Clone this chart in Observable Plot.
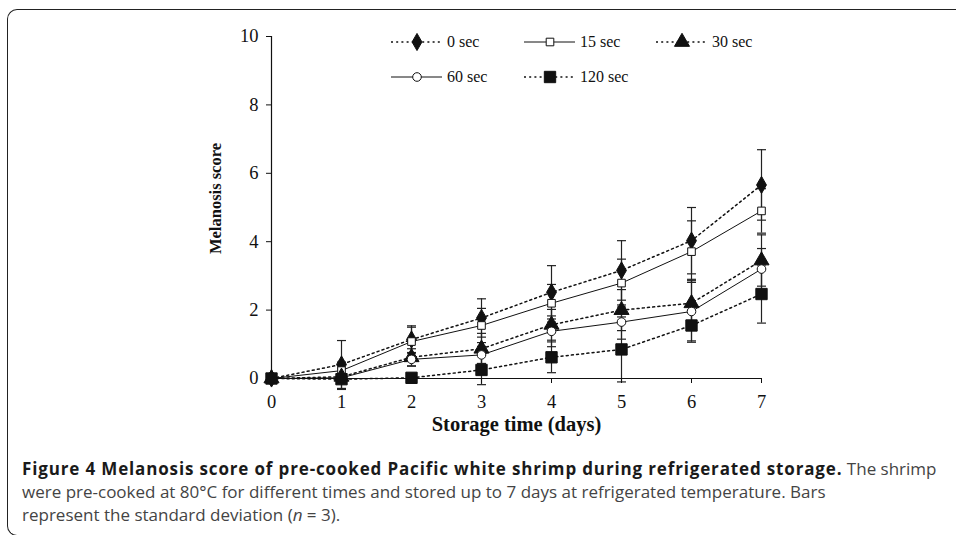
<!DOCTYPE html>
<html>
<head>
<meta charset="utf-8">
<script src="https://cdn.jsdelivr.net/npm/d3@7"></script>
<script src="https://cdn.jsdelivr.net/npm/@observablehq/plot@0.6"></script>
<style>
  html, body { margin: 0; padding: 0; background: #fff; }
  #page { position: relative; width: 956px; height: 535px; overflow: hidden; background: #fff; }
  #frame { position: absolute; left: 7px; top: 9px; width: 1000px; height: 527px;
           border-left: 1.6px solid #222; border-top: 1.6px solid #222; border-bottom: 1.6px solid #222;
           border-radius: 10px 0 0 10px; box-sizing: border-box; }
  #chart { position: absolute; left: 0; top: 0; }
  #chart svg text { font-size: 18.5px; }
  #chart svg [aria-label="x-axis label"] text { font-weight: bold; font-size: 20.5px; }
  #chart svg g.ylabel text { font-weight: bold; font-size: 16.5px; }
  #legend { position: absolute; left: 0; top: 0; font-family: "Liberation Serif", serif; font-size: 16px; color: #111; }
  .lg { position: absolute; display: flex; align-items: center; white-space: nowrap; }
  .lg svg { display: block; margin-right: 4px; }
  #caption { position: absolute; left: 22px; top: 457px; font-family: "Open Sans", sans-serif; font-size: 17px; line-height: 23px; color: #444; white-space: nowrap; }
  #caption b { color: #1a1a1a; letter-spacing: 0.85px; }
</style>
</head>
<body>
<div id="page">
  <div id="chart"></div>
  <div id="legend"></div>
  <div id="frame"></div>
  <div id="caption"><b>Figure 4 Melanosis score of pre-cooked Pacific white shrimp during refrigerated storage.</b> The shrimp<br>were pre-cooked at 80°C for different times and stored up to 7 days at refrigerated temperature. Bars<br>represent the standard deviation (<i>n</i> = 3).</div>
</div>
<script>
// ---- data ----
const days = [0, 1, 2, 3, 4, 5, 6, 7];
const yTicks = [0, 2, 4, 6, 8, 10];
const seriesNames = ["0 sec", "15 sec", "30 sec", "60 sec", "120 sec"];
const xLabel = "Storage time (days)";
const yLabel = "Melanosis score";

const score0s   = [0, 0.41, 1.14, 1.77, 2.52, 3.16, 4.03, 5.66];
const sd0s      = [0, 0.70, 0.40, 0.56, 0.78, 0.87, 0.97, 1.03];
const score15s  = [0, 0.23, 1.08, 1.55, 2.20, 2.79, 3.71, 4.90];
const sd15s     = [0, 0.25, 0.42, 0.50, 0.55, 0.70, 0.90, 0.65];
const score30s  = [0, 0.05, 0.62, 0.87, 1.57, 2.00, 2.20, 3.45];
const sd30s     = [0, 0.10, 0.25, 0.45, 0.45, 0.60, 0.70, 0.75];
const score60s  = [0, 0.02, 0.56, 0.69, 1.38, 1.65, 1.96, 3.20];
const sd60s     = [0, 0.05, 0.20, 0.25, 0.45, 0.50, 0.90, 0.60];
const score120s = [0, -0.02, 0.02, 0.25, 0.62, 0.85, 1.55, 2.47];
const sd120s    = [0, 0.30, 0.05, 0.43, 0.45, 0.95, 0.45, 0.85];

const scores = [score0s, score15s, score30s, score60s, score120s];
const sds = [sd0s, sd15s, sd30s, sd60s, sd120s];

// ---- styles per series ----
const styles = [
  {dash: "2,3.2", width: 1.5, symbol: "diamond",  fill: "#111", r: 5.2},
  {dash: null,    width: 1,   symbol: "square",   fill: "#fff", r: 4.3},
  {dash: "2,3.2", width: 1.5, symbol: "triangle", fill: "#111", r: 5.6},
  {dash: null,    width: 1,   symbol: "circle",   fill: "#fff", r: 4.3},
  {dash: "2,3.2", width: 1.5, symbol: "square",   fill: "#111", r: 6.4}
];

const rows = [];
seriesNames.forEach((name, i) => {
  days.forEach((d, j) => rows.push({series: name, si: i, day: d, score: scores[i][j], sd: sds[i][j]}));
});

const capSymbol = { draw(ctx) { ctx.moveTo(-4.5, 0); ctx.lineTo(4.5, 0); } };

const marks = [];
// error bars
const withSd = rows.filter(r => r.sd > 0);
marks.push(Plot.ruleX(withSd, {x: "day", y1: r => r.score - r.sd, y2: r => r.score + r.sd, stroke: "#222", strokeWidth: 1.2}));
marks.push(Plot.dot(withSd, {x: "day", y: r => r.score + r.sd, symbol: capSymbol, fill: "none", stroke: "#222", strokeWidth: 1.2, r: 4}));
marks.push(Plot.dot(withSd, {x: "day", y: r => r.score - r.sd, symbol: capSymbol, fill: "none", stroke: "#222", strokeWidth: 1.2, r: 4}));
// axis lines
marks.push(Plot.ruleY([0], {stroke: "#111", strokeWidth: 1.2}));
marks.push(Plot.ruleX([0], {stroke: "#111", strokeWidth: 1.2}));
// series lines
seriesNames.forEach((name, i) => {
  const st = styles[i];
  const data = rows.filter(r => r.si === i);
  marks.push(Plot.line(data, {x: "day", y: "score", stroke: "#111", strokeWidth: st.width, strokeDasharray: st.dash || undefined}));
});
// markers
seriesNames.forEach((name, i) => {
  const st = styles[i];
  const data = rows.filter(r => r.si === i);
  marks.push(Plot.dot(data, {x: "day", y: "score", symbol: st.symbol, r: st.r, fill: st.fill, stroke: "#111", strokeWidth: 1}));
});
marks.push(Plot.axisX({ticks: days, tickSize: 5, tickPadding: 11, label: xLabel, labelArrow: "none", labelAnchor: "center", labelOffset: 52, tickFormat: d => String(d)}));
marks.push(Plot.axisY({ticks: yTicks, tickSize: 5, tickPadding: 8, label: null, tickFormat: d => String(d)}));
marks.push(Plot.text([yLabel], {frameAnchor: "left", textAnchor: "middle", lineAnchor: "middle", rotate: -90, dx: -56, dy: -9, fill: "#111", className: "ylabel"}));

const chart = Plot.plot({
  width: 956,
  height: 440,
  marginLeft: 271,
  marginRight: 195,
  marginTop: 36,
  marginBottom: 62,
  x: {domain: [0, 7]},
  y: {domain: [0, 10]},
  style: {fontFamily: "Liberation Serif, serif", color: "#111", background: "transparent"},
  marks
});
document.getElementById("chart").appendChild(chart);

// ---- legend ----
const legendPos = [
  {x: 391, y: 42}, {x: 524, y: 42}, {x: 656, y: 42},
  {x: 391, y: 77}, {x: 524, y: 77}
];
const symMap = {diamond: d3.symbolDiamond, square: d3.symbolSquare, triangle: d3.symbolTriangle, circle: d3.symbolCircle};
const legend = d3.select("#legend");
seriesNames.forEach((name, i) => {
  const st = styles[i];
  const p = legendPos[i];
  const item = legend.append("div").attr("class", "lg").style("left", p.x + "px").style("top", (p.y - 9) + "px").style("height", "18px");
  const svg = item.append("svg").attr("width", 52).attr("height", 18);
  svg.append("line").attr("x1", 0).attr("x2", 51).attr("y1", 9).attr("y2", 9)
    .attr("stroke", "#111").attr("stroke-width", st.width).attr("stroke-dasharray", st.dash);
  svg.append("path").attr("transform", "translate(26,9)")
    .attr("d", d3.symbol(symMap[st.symbol], Math.PI * st.r * st.r)())
    .attr("fill", st.fill).attr("stroke", "#111").attr("stroke-width", 1);
  item.append("span").text(name);
});
</script>
</body>
</html>
